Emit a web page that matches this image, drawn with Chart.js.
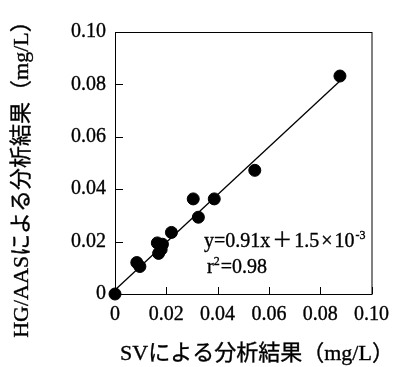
<!DOCTYPE html>
<html>
<head>
<meta charset="utf-8">
<script src="https://cdn.jsdelivr.net/npm/chart.js@4.4.0/dist/chart.umd.min.js"></script>
<style>
    html, body { margin: 0; padding: 0; background: #fff; }
    #wrap { width: 398px; height: 367px; }
</style>
</head>
<body>
<div id="wrap"><canvas id="chart"></canvas></div>
<script>
// SV result (x) vs HG/AAS result (y), mg/L
const svValues = [0, 0.0085, 0.0097, 0.0165, 0.017, 0.0185, 0.018, 0.022, 0.0305, 0.0325, 0.0387, 0.0545, 0.0877];
const hgValues = [0, 0.012, 0.0105, 0.0195, 0.0155, 0.019, 0.017, 0.0235, 0.0363, 0.0293, 0.0363, 0.0472, 0.0832];

// regression line end points (y=0.91x+1.5e-3)
const fitX = [0, 0.0878];
const fitY = [0.0015, 0.0814];

const tickValues = [0, 0.02, 0.04, 0.06, 0.08, 0.10];
const xTitle = 'SVによる分析結果（mg/L）';
const yTitle = 'HG/AASによる分析結果（mg/L）';

const serif = '"Liberation Serif", "Noto Sans CJK JP", serif';

const points = svValues.map((v, i) => ({ x: v, y: hgValues[i] }));
const fitLine = fitX.map((v, i) => ({ x: v, y: fitY[i] }));

function tickLabel(value) {
    return value === 0 ? '0' : value.toFixed(2);
}

// draw text a little heavier, like the printed figure
function boldText(ctx, text, x, y) {
    ctx.fillText(text, x, y);
    ctx.strokeText(text, x, y);
}

// frame, inward ticks, axis titles and the equation text
const extras = {
    id: 'extras',
    afterDraw(chart) {
        const ctx = chart.ctx;
        const a = chart.chartArea;
        const xs = chart.scales.x;
        const ys = chart.scales.y;
        ctx.save();
        ctx.strokeStyle = '#000';
        ctx.lineWidth = 1;
        ctx.strokeRect(a.left + 0.5, a.top + 0.5, a.right - a.left, a.bottom - a.top);

        ctx.beginPath();
        tickValues.forEach(v => {
            const px = Math.round(xs.getPixelForValue(v)) + 0.5;
            ctx.moveTo(px, a.bottom);
            ctx.lineTo(px, a.bottom - 7);
            const py = Math.round(ys.getPixelForValue(v)) + 0.5;
            ctx.moveTo(a.left, py);
            ctx.lineTo(a.left + 8, py);
        });
        ctx.stroke();

        ctx.fillStyle = '#000';
        ctx.lineWidth = 0.35;
        ctx.textAlign = 'center';
        ctx.textBaseline = 'middle';
        ctx.font = '22px ' + serif;
        boldText(ctx, xTitle, 257, 354);

        ctx.save();
        ctx.translate(22, 174);
        ctx.rotate(-Math.PI / 2);
        ctx.font = '22px ' + serif;
        boldText(ctx, yTitle, 0, 0);
        ctx.restore();

        // equation, with a little room around the + and x signs
        ctx.textAlign = 'left';
        ctx.textBaseline = 'alphabetic';
        ctx.font = '20px ' + serif;
        let x = 204;
        ['y=0.91x', '＋', '1.5', '×', '10'].forEach(part => {
            boldText(ctx, part, x, 247);
            x += ctx.measureText(part).width + 2;
        });
        ctx.font = '12px ' + serif;
        boldText(ctx, '-3', x - 1, 239);

        ctx.font = '20px ' + serif;
        boldText(ctx, 'r', 207, 273);
        const w = ctx.measureText('r').width;
        ctx.font = '12px ' + serif;
        boldText(ctx, '2', 207 + w, 265);
        const w2 = ctx.measureText('2').width;
        ctx.font = '20px ' + serif;
        boldText(ctx, '=0.98', 207 + w + w2 + 1, 273);
        ctx.restore();
    }
};

const ctx = document.getElementById('chart').getContext('2d');
new Chart(ctx, {
    type: 'scatter',
    data: {
        datasets: [{
            data: points,
            order: 0,
            backgroundColor: '#000',
            borderColor: '#000',
            pointRadius: 6,
            pointHoverRadius: 6,
            clip: false
        }, {
            type: 'line',
            data: fitLine,
            order: 1,
            borderColor: '#000',
            borderWidth: 1.3,
            pointRadius: 0,
            fill: false,
            clip: false
        }]
    },
    options: {
        responsive: true,
        maintainAspectRatio: false,
        animation: false,
        layout: {
            padding: { top: 32, right: 20, left: 0, bottom: 0 }
        },
        plugins: {
            legend: { display: false },
            tooltip: { enabled: false }
        },
        scales: {
            x: {
                type: 'linear',
                min: 0,
                max: 0.1,
                afterBuildTicks: s => { s.ticks = tickValues.map(v => ({ value: v })); },
                afterFit: s => { s.height = 73; },
                border: { color: '#000', width: 1 },
                grid: { drawOnChartArea: false, drawTicks: false },
                ticks: {
                    color: '#000',
                    padding: 9,
                    maxRotation: 0,
                    textStrokeColor: '#000',
                    textStrokeWidth: 0.35,
                    font: { family: serif, size: 20 },
                    callback: tickLabel
                }
            },
            y: {
                type: 'linear',
                min: 0,
                max: 0.1,
                afterBuildTicks: s => { s.ticks = tickValues.map(v => ({ value: v })); },
                afterFit: s => { s.width = 115; },
                border: { color: '#000', width: 1 },
                grid: { drawOnChartArea: false, drawTicks: false },
                ticks: {
                    color: '#000',
                    padding: 9,
                    textStrokeColor: '#000',
                    textStrokeWidth: 0.35,
                    font: { family: serif, size: 20 },
                    callback: tickLabel
                }
            }
        }
    },
    plugins: [extras]
});
</script>
</body>
</html>
